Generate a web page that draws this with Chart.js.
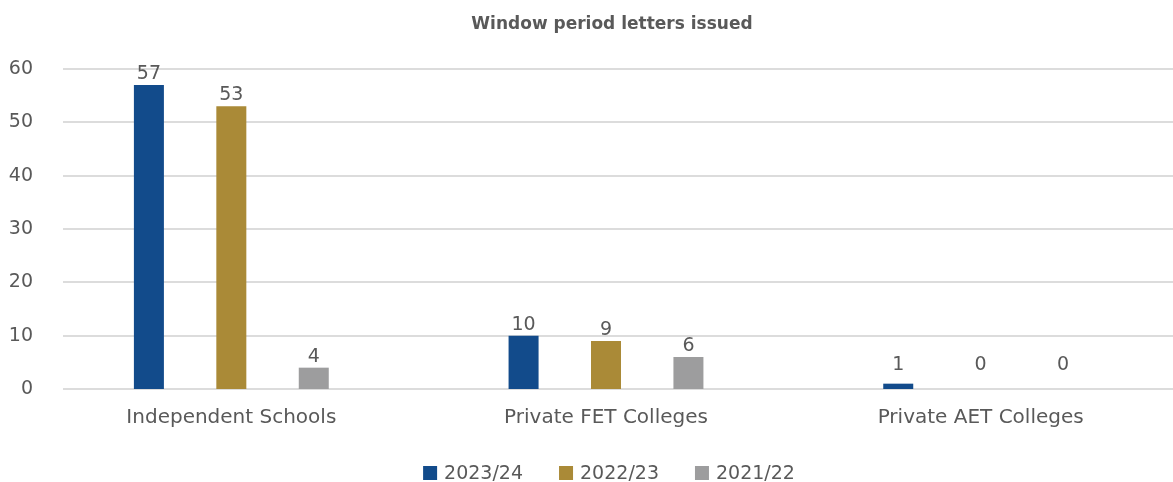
<!DOCTYPE html>
<html>
<head>
<meta charset="utf-8">
<script src="https://cdn.jsdelivr.net/npm/chart.js@4.4.1/dist/chart.umd.min.js"></script>
<style>
  html, body { margin: 0; padding: 0; background: #ffffff; }
  #wrap { width: 1173px; height: 482px; position: relative; }
</style>
</head>
<body>
<div id="wrap"><canvas id="chart" width="1173" height="482"></canvas></div>
<script>
// Window period letters issued, by institution type and year
const categories = ['Independent Schools', 'Private FET Colleges', 'Private AET Colleges'];
const seriesNames = ['2023/24', '2022/23', '2021/22'];
const letters2023 = [57, 10, 1];
const letters2022 = [53, 9, 0];
const letters2021 = [4, 6, 0];
const yTicks = [0, 10, 20, 30, 40, 50, 60];

const colors = ['#124B8B', '#AA8A37', '#9D9D9E'];
const textColor = '#595959';
const fontFamily = '"DejaVu Sans", sans-serif';

// Horizontal gridlines at each tick, drawn across the full width
const gridPlugin = {
  id: 'gridLines',
  beforeDatasetsDraw(chart) {
    const { ctx, scales: { y } } = chart;
    ctx.save();
    ctx.strokeStyle = '#DCDCDC';
    ctx.lineWidth = 2;
    yTicks.forEach(v => {
      const py = Math.round(y.getPixelForValue(v));
      ctx.beginPath();
      ctx.moveTo(63, py);
      ctx.lineTo(chart.width, py);
      ctx.stroke();
    });
    ctx.restore();
  }
};

// Value labels above each bar
const valueLabels = {
  id: 'valueLabels',
  afterDatasetsDraw(chart) {
    const { ctx, scales: { y } } = chart;
    const base = y.getPixelForValue(0);
    ctx.save();
    ctx.font = '19px ' + fontFamily;
    ctx.fillStyle = textColor;
    ctx.textAlign = 'center';
    ctx.textBaseline = 'alphabetic';
    chart.data.datasets.forEach((ds, di) => {
      chart.getDatasetMeta(di).data.forEach((bar, i) => {
        const ly = Math.min(bar.y - 6, base - 19);
        ctx.fillText(String(ds.data[i]), bar.x, ly);
      });
    });
    ctx.restore();
  }
};

// Title and legend drawn centred over the plot area
const titleLegend = {
  id: 'titleLegend',
  afterDraw(chart) {
    const { ctx, chartArea } = chart;
    const cx = (chartArea.left + chartArea.right) / 2;
    ctx.save();
    ctx.fillStyle = textColor;
    ctx.font = 'bold 17px ' + fontFamily;
    ctx.textAlign = 'center';
    ctx.textBaseline = 'middle';
    ctx.fillText('Window period letters issued', cx + 6, 25);

    ctx.font = '19px ' + fontFamily;
    ctx.textAlign = 'left';
    const box = 14, gapText = 7, gapItem = 36;
    const widths = chart.data.datasets.map(ds => box + gapText + ctx.measureText(ds.label).width);
    const total = widths.reduce((a, b) => a + b, 0) + gapItem * (widths.length - 1);
    let x = cx - total / 2 + 3;
    const ly = 473;
    chart.data.datasets.forEach((ds, i) => {
      ctx.fillStyle = ds.backgroundColor;
      ctx.fillRect(x, ly - 7, box, box);
      ctx.fillStyle = textColor;
      ctx.fillText(ds.label, x + box + gapText, ly + 1);
      x += widths[i] + gapItem;
    });
    ctx.restore();
  }
};

const seriesData = [letters2023, letters2022, letters2021];

new Chart(document.getElementById('chart'), {
  type: 'bar',
  data: {
    labels: categories,
    datasets: seriesNames.map((name, i) => ({
      label: name,
      data: seriesData[i],
      backgroundColor: colors[i],
      borderWidth: 0,
      categoryPercentage: 0.66,
      barPercentage: 0.364
    }))
  },
  options: {
    responsive: false,
    animation: false,
    devicePixelRatio: 1,
    layout: { padding: { top: 69, right: 5, left: 0, bottom: 0 } },
    plugins: {
      legend: { display: false },
      title: { display: false },
      tooltip: { enabled: false }
    },
    scales: {
      x: {
        grid: { display: false, drawTicks: false },
        border: { display: false },
        ticks: { color: textColor, font: { family: fontFamily, size: 20 }, padding: 17, maxRotation: 0 },
        afterFit(scale) { scale.height = 93; }
      },
      y: {
        min: 0,
        max: 60,
        grid: { display: false, drawTicks: false },
        border: { display: false },
        afterBuildTicks(scale) { scale.ticks = yTicks.map(v => ({ value: v })); },
        ticks: { color: textColor, font: { family: fontFamily, size: 19 }, padding: 11 },
        afterFit(scale) { scale.width = 44; }
      }
    }
  },
  plugins: [gridPlugin, valueLabels, titleLegend]
});
</script>
</body>
</html>
